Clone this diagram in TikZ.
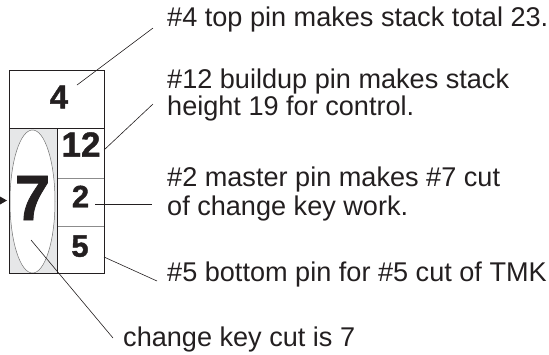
\documentclass[tikz,border=0pt]{standalone}
\usepackage{fontspec}
\setmainfont{Liberation Sans}
\newfontfamily\numfont{Liberation Sans Bold}[FakeBold=1.2]
\usetikzlibrary{shapes.geometric}
\definecolor{ink}{HTML}{231F20}
\definecolor{paleshade}{HTML}{E6E7E8}
\begin{document}
\begin{tikzpicture}[x=1pt,y=-1pt,
  lbl/.style={anchor=base west, inner sep=0pt, text=ink, font=\fontsize{27.1}{28}\selectfont},
  num/.style={anchor=base, inner sep=0pt, text=ink, font=\numfont\fontsize{#1}{#1}\selectfont},
  cell/.style={draw=ink, line width=0.8pt},
  divider/.style={draw=black!45, line width=0.9pt},
  lead/.style={draw=ink, line width=0.6pt}]
\useasboundingbox (0,0) rectangle (549,354);
% shaded column and oval
\fill[fill=paleshade] (9,128) rectangle (57,273);
\node[ellipse, draw=black!55, fill=white, line width=0.5pt, minimum width=45pt, minimum height=143pt, inner sep=0pt] (oval) at (32.5,201.5) {};
% cells
\coordinate (tl) at (9,70);
\coordinate (br) at (104,273);
\draw[divider] (57,178) -- (104,178);
\draw[divider] (57,226) -- (104,226);
\draw[cell] (57,128) -- (57,273);
\draw[cell] (9,128) -- (104,128);
\draw[cell] (tl) rectangle (br);
% numbers
\node[num=33] (n4) at (59,108.3) {4};
\node[num=35] (n12) at (81,156.7) {12};
\node[num=31] (n2) at (80.5,207.3) {2};
\node[num=31] (n5) at (80,256.7) {5};
\node[num=64] (n7) at (32.5,220) {7};
% left arrow tip
\fill[ink] (0,196.5) -- (7,200.5) -- (0,204.5) -- cycle;
% labels
\node[lbl] (t4) at (167,26.7) {\#4 top pin makes stack total 23.};
\node[lbl] (t12) at (167,88.3) {\#12 buildup pin makes stack};
\node[lbl] (t12b) at (167,115) {height 19 for control.};
\node[lbl] (t2) at (167,186.7) {\#2 master pin makes \#7 cut};
\node[lbl] (t2b) at (167,215) {of change key work.};
\node[lbl] (t5) at (167,281.7) {\#5 bottom pin for \#5 cut of TMK};
\node[lbl] (t7) at (123,346.5) {change key cut is 7};
% leader lines
\coordinate (a4) at (77,85);   \coordinate (e4) at (153,28);
\coordinate (a12) at (104,150); \coordinate (e12) at (153,104);
\coordinate (a2) at (95,204);  \coordinate (e2) at (152,204);
\coordinate (a5) at (104,257); \coordinate (e5) at (157,281);
\coordinate (a7) at (31,240);  \coordinate (e7) at (113,338);
\draw[lead] (a4) -- (e4);
\draw[lead] (a12) -- (e12);
\draw[lead] (a2) -- (e2);
\draw[lead] (a5) -- (e5);
\draw[lead] (a7) -- (e7);
\end{tikzpicture}
\end{document}
